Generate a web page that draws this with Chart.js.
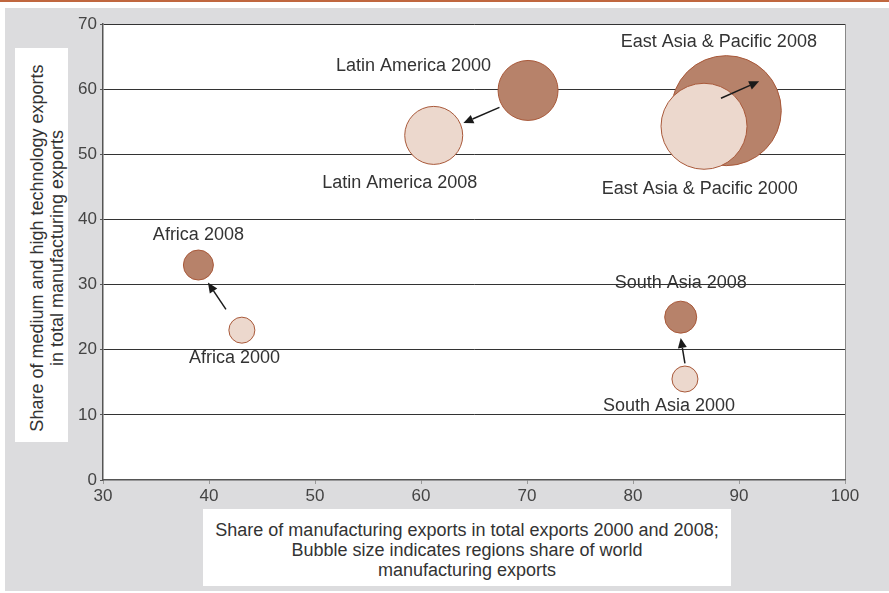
<!DOCTYPE html>
<html>
<head>
<meta charset="utf-8">
<script src="https://cdn.jsdelivr.net/npm/chart.js@4"></script>
<style>
  html, body { margin:0; padding:0; width:889px; height:593px; overflow:hidden; background:#ffffff; font-family:"Liberation Sans", Arial, sans-serif; }
  #topline { position:absolute; left:0; top:0; width:889px; height:2px; background:#c0673f; }
  #bg { position:absolute; left:5px; top:8px; width:884px; height:583px; background:#dcdcde; }
  #ybox { position:absolute; left:15px; top:48px; width:53px; height:394px; background:#fff; }
  #ytitle { position:absolute; left:47px; top:248px; width:420px; transform:translate(-50%,-50%) rotate(-90deg); text-align:center; font-size:18px; line-height:20px; color:#333; white-space:nowrap; }
  #xbox { position:absolute; left:203px; top:509px; width:528px; height:77px; background:#fff; }
  #xtitle { position:absolute; left:203px; top:520px; width:528px; text-align:center; font-size:18px; line-height:20px; color:#333; white-space:nowrap; }
  #wrap { position:absolute; left:0; top:0; width:889px; height:593px; }
</style>
</head>
<body>
<div id="topline"></div>
<div id="bg"></div>
<div id="ybox"></div>
<div id="ytitle">Share of medium and high technology exports<br>in total manufacturing exports</div>
<div id="xbox"></div>
<div id="xtitle">Share of manufacturing exports in total exports 2000 and 2008;<br>Bubble size indicates regions share of world<br>manufacturing exports</div>
<div id="wrap"><canvas id="c" width="889" height="593"></canvas></div>
<script>
// Dark bubbles (as labelled in the source)
const darkNames = ['Africa 2008', 'Latin America 2000', 'East Asia & Pacific 2008', 'South Asia 2008'];
const darkX = [39, 70.1, 88.8, 84.5];
const darkY = [33, 59.8, 56.7, 25];
const darkSize = [15, 30, 55, 16];

// Light bubbles
const lightNames = ['Africa 2000', 'Latin America 2008', 'East Asia & Pacific 2000', 'South Asia 2000'];
const lightX = [43.1, 61.2, 86.7, 84.9];
const lightY = [23, 52.9, 54.3, 15.5];
const lightSize = [13, 29, 43, 13];

// Label anchors (data units)
const labelText = ['Africa 2008', 'Africa 2000', 'Latin America 2000', 'Latin America 2008',
                   'East Asia & Pacific 2008', 'East Asia & Pacific 2000', 'South Asia 2008', 'South Asia 2000'];
const labelX = [39, 42.4, 59.3, 58.0, 88.1, 86.3, 84.5, 83.4];
const labelY = [37.6, 18.7, 63.5, 45.6, 67.3, 44.6, 30.2, 11.3];

// Arrows (data units)
const arrowFromX = [41.6, 67.4, 88.3, 84.9];
const arrowFromY = [26.2, 57.2, 58.6, 17.9];
const arrowToX = [39.9, 64.0, 91.9, 84.5];
const arrowToY = [30.3, 54.8, 61.2, 21.8];

// Axis ticks
const xTicks = [30, 40, 50, 60, 70, 80, 90, 100];
const yTicks = [0, 10, 20, 30, 40, 50, 60, 70];

const toPts = (xs, ys, rs) => xs.map((x, i) => ({ x: x, y: ys[i], r: rs[i] }));

const annotPlugin = {
  id: 'annot',
  afterDatasetsDraw(chart) {
    const ctx = chart.ctx, xs = chart.scales.x, ys = chart.scales.y;
    ctx.save();
    ctx.strokeStyle = '#1a1a1a';
    ctx.fillStyle = '#1a1a1a';
    ctx.lineWidth = 1.5;
    for (let i = 0; i < arrowFromX.length; i++) {
      const x1 = xs.getPixelForValue(arrowFromX[i]), y1 = ys.getPixelForValue(arrowFromY[i]);
      const x2 = xs.getPixelForValue(arrowToX[i]), y2 = ys.getPixelForValue(arrowToY[i]);
      const a = Math.atan2(y2 - y1, x2 - x1);
      const hl = 10, hw = 4.5;
      const bx = x2 - hl * Math.cos(a), by = y2 - hl * Math.sin(a);
      ctx.beginPath();
      ctx.moveTo(x1, y1);
      ctx.lineTo(bx, by);
      ctx.stroke();
      ctx.beginPath();
      ctx.moveTo(x2, y2);
      ctx.lineTo(bx + hw * Math.sin(a), by - hw * Math.cos(a));
      ctx.lineTo(bx - hw * Math.sin(a), by + hw * Math.cos(a));
      ctx.closePath();
      ctx.fill();
    }
    ctx.font = '18px "Liberation Sans", Arial, sans-serif';
    ctx.fillStyle = '#333';
    ctx.textAlign = 'center';
    ctx.textBaseline = 'middle';
    for (let i = 0; i < labelText.length; i++) {
      ctx.fillText(labelText[i], xs.getPixelForValue(labelX[i]), ys.getPixelForValue(labelY[i]));
    }
    ctx.restore();
  }
};

const plotBg = {
  id: 'plotBg',
  beforeDraw(chart) {
    const a = chart.chartArea, ctx = chart.ctx;
    ctx.save();
    ctx.fillStyle = '#ffffff';
    ctx.fillRect(a.left, a.top, a.right - a.left, a.bottom - a.top);
    ctx.restore();
  }
};

new Chart(document.getElementById('c'), {
  type: 'bubble',
  data: {
    datasets: [
      { label: '2000', data: toPts(lightX, lightY, lightSize), backgroundColor: '#ecd8cd', borderColor: '#a9593a', borderWidth: 1, order: 1 },
      { label: '2008', data: toPts(darkX, darkY, darkSize), backgroundColor: '#b7826a', borderColor: '#a9593a', borderWidth: 1, order: 2 }
    ]
  },
  options: {
    responsive: false,
    animation: false,
    events: [],
    layout: { autoPadding: false, padding: { left: 63, top: 24, right: 44, bottom: 83 } },
    plugins: { legend: { display: false }, tooltip: { enabled: false } },
    scales: {
      x: {
        type: 'linear', min: 30, max: 100,
        afterBuildTicks: s => { s.ticks = xTicks.map(v => ({ value: v })); },
        afterFit: s => { s.height = 30; },
        ticks: { color: '#444', font: { size: 17, family: '"Liberation Sans", Arial, sans-serif' }, padding: 2 },
        grid: { color: c => (c.tick && c.tick.value === 100) ? '#888' : 'rgba(0,0,0,0)', tickColor: '#999', tickLength: 4, drawOnChartArea: true },
        border: { color: '#555', width: 1.5 }
      },
      y: {
        type: 'linear', min: 0, max: 70,
        afterBuildTicks: s => { s.ticks = yTicks.map(v => ({ value: v })); },
        afterFit: s => { s.width = 40; },
        ticks: { color: '#444', font: { size: 17, family: '"Liberation Sans", Arial, sans-serif' }, padding: 3 },
        grid: { color: c => (c.tick && c.tick.value === 0) ? 'rgba(0,0,0,0)' : '#333', tickColor: '#555', tickLength: 3, lineWidth: 1 },
        border: { color: '#555', width: 1.5 }
      }
    }
  },
  plugins: [plotBg, annotPlugin]
});
</script>
</body>
</html>
